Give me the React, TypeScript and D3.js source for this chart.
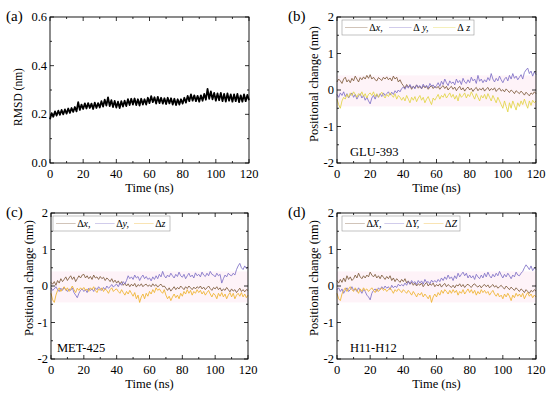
import React from 'react';
import * as d3 from 'd3';

// RMSD, one value per ns (0..120)
const rmsd = [
  0.18, 0.205, 0.19, 0.212, 0.195, 0.215, 0.198, 0.218, 0.2, 0.22,
  0.203, 0.224, 0.206, 0.226, 0.21, 0.23, 0.212, 0.25, 0.218, 0.24,
  0.222, 0.245, 0.224, 0.246, 0.226, 0.244, 0.222, 0.248, 0.226, 0.246,
  0.228, 0.254, 0.232, 0.26, 0.236, 0.27, 0.234, 0.258, 0.23, 0.255,
  0.228, 0.252, 0.226, 0.254, 0.232, 0.256, 0.234, 0.262, 0.238, 0.264,
  0.24, 0.265, 0.238, 0.262, 0.236, 0.264, 0.24, 0.262, 0.24, 0.268,
  0.246, 0.275, 0.25, 0.27, 0.244, 0.272, 0.246, 0.268, 0.244, 0.266,
  0.242, 0.268, 0.245, 0.266, 0.24, 0.264, 0.238, 0.262, 0.24, 0.262,
  0.244, 0.268, 0.248, 0.276, 0.254, 0.282, 0.256, 0.278, 0.254, 0.276,
  0.252, 0.278, 0.256, 0.284, 0.26, 0.305, 0.264, 0.294, 0.262, 0.288,
  0.256, 0.286, 0.258, 0.288, 0.254, 0.284, 0.252, 0.286, 0.256, 0.282,
  0.252, 0.282, 0.254, 0.284, 0.25, 0.278, 0.252, 0.282, 0.254, 0.28,
  0.258,
];

// positional changes, one value per ns (0..120)
const gluX = [
  0.22, 0.3, 0.25, 0.18, 0.3, 0.35, 0.22, 0.28, 0.2, 0.32,
  0.25, 0.38, 0.3, 0.22, 0.34, 0.28, 0.36, 0.3, 0.4, 0.32,
  0.42, 0.3, 0.35, 0.28, 0.25, 0.34, 0.3, 0.26, 0.35, 0.3,
  0.36, 0.28, 0.33, 0.25, 0.38, 0.3, 0.35, 0.22, 0.28, 0.18,
  0.12, 0.05, 0.15, 0.08, 0.12, 0.02, 0.1, 0.06, 0.14, 0.05,
  0.1, 0.03, 0.12, 0.06, 0.1, 0.02, 0.08, 0.12, 0.04, 0.1,
  0.05, 0.1, 0.02, 0.08, 0.12, 0.04, 0.1, 0.0, 0.06, 0.1,
  0.02, 0.08, -0.02, 0.05, 0.1, 0.0, 0.06, -0.03, 0.04, 0.08,
  0.0, 0.05, -0.04, 0.03, 0.07, -0.02, 0.04, 0.0, 0.06, -0.03,
  0.03, 0.07, -0.02, 0.04, 0.0, 0.06, -0.04, 0.02, 0.05, -0.03,
  0.01, -0.05, 0.03, -0.02, -0.07, 0.0, -0.04, -0.1, -0.02, -0.06,
  -0.1, -0.03, -0.08, -0.14, -0.06, -0.11, -0.16, -0.08, -0.12, -0.05,
  -0.1,
];
const gluY = [
  -0.12, -0.2, -0.08, -0.15, -0.05, -0.18, -0.1, -0.22, -0.14, -0.08,
  -0.2, -0.12, -0.25, -0.16, -0.1, -0.22, -0.15, -0.28, -0.2, -0.3,
  -0.38, -0.22, -0.15, -0.25, -0.12, -0.2, -0.1, -0.18, -0.08, -0.15,
  -0.1, -0.05, -0.14, -0.06, -0.12, -0.02, -0.08, 0.0, -0.05, 0.04,
  0.08, 0.02, 0.12, 0.05, 0.15, 0.06, 0.1, 0.03, 0.14, 0.08,
  0.12, 0.04, 0.16, 0.08, 0.13, 0.05, 0.18, 0.1, 0.14, 0.06,
  0.12, 0.2, 0.1, 0.24, 0.15, 0.3, 0.2, 0.12, 0.25, 0.18,
  0.22, 0.14, 0.3, 0.2, 0.26, 0.15, 0.32, 0.22, 0.18, 0.28,
  0.2, 0.35, 0.25, 0.3, 0.18, 0.4, 0.24, 0.3, 0.2, 0.28,
  0.22, 0.34, 0.26, 0.45, 0.3, 0.22, 0.32, 0.25, 0.38, 0.28,
  0.2, 0.3, 0.35, 0.25, 0.4, 0.3, 0.45, 0.32, 0.38, 0.28,
  0.35, 0.42, 0.3, 0.48, 0.55, 0.6, 0.45, 0.52, 0.38, 0.5,
  0.42,
];
const gluZ = [
  -0.25, -0.4, -0.5, -0.3, -0.2, -0.25, -0.12, -0.2, -0.08, -0.15,
  -0.05, -0.12, -0.2, -0.1, -0.15, -0.05, -0.18, -0.1, -0.22, -0.12,
  -0.08, -0.15, -0.05, -0.18, -0.1, -0.2, -0.12, -0.06, -0.15, -0.22,
  -0.12, -0.18, -0.08, -0.14, -0.2, -0.1, -0.25, -0.15, -0.2, -0.28,
  -0.2, -0.3, -0.15, -0.25, -0.35, -0.2, -0.28, -0.18, -0.32, -0.22,
  -0.15, -0.28, -0.2, -0.35, -0.25, -0.18, -0.3, -0.4, -0.22, -0.28,
  -0.2, -0.12, -0.25, -0.15, -0.2, -0.1, -0.22, -0.15, -0.08, -0.2,
  -0.12, -0.25, -0.15, -0.3, -0.1, -0.2, -0.15, -0.08, -0.22, -0.12,
  -0.18, -0.05, -0.15, -0.25, -0.1, -0.2, -0.3, -0.15, -0.22, -0.12,
  -0.25, -0.1, -0.2, -0.3, -0.15, -0.25, -0.35, -0.2, -0.3, -0.4,
  -0.5, -0.3, -0.45, -0.6, -0.35, -0.5, -0.3, -0.42, -0.55, -0.35,
  -0.45, -0.3, -0.4, -0.25, -0.38, -0.5, -0.3, -0.42, -0.28, -0.35,
  -0.3,
];

const metX = [
  0.1, 0.05, 0.12, 0.02, 0.15, 0.08, 0.2, 0.12, 0.18, 0.25,
  0.15, 0.22, 0.28, 0.18, 0.25, 0.12, 0.2, 0.28, 0.22, 0.3,
  0.32, 0.22, 0.28, 0.2, 0.26, 0.18, 0.3, 0.22, 0.25, 0.18,
  0.26, 0.2, 0.24, 0.15, 0.22, 0.18, 0.12, 0.2, 0.1, 0.16,
  0.08, 0.14, 0.05, 0.12, 0.02, 0.08, 0.0, 0.06, -0.02, 0.05,
  0.0, 0.07, -0.03, 0.04, 0.0, 0.06, -0.02, 0.03, 0.05, -0.01,
  0.03, -0.02, 0.06, 0.0, 0.04, -0.03, 0.02, 0.05, -0.02, 0.0,
  -0.06, -0.12, -0.05, -0.14, -0.08, -0.02, -0.1, -0.04, -0.08, 0.0,
  -0.05, -0.1, -0.02, -0.07, 0.0, -0.05, -0.1, -0.03, -0.08, -0.02,
  -0.06, 0.0, -0.08, -0.03, -0.1, -0.05, 0.0, -0.07, -0.12, -0.04,
  -0.08, -0.02, -0.1, -0.05, -0.14, -0.08, -0.12, -0.04, -0.1, -0.16,
  -0.08, -0.14, -0.1, -0.18, -0.12, -0.06, -0.15, -0.1, -0.16, -0.1,
  -0.12,
];
const metY = [
  -0.05, -0.12, -0.08, -0.02, -0.1, -0.15, -0.06, -0.12, -0.04, -0.1,
  -0.15, -0.08, -0.12, -0.05, -0.18, -0.25, -0.32, -0.2, -0.12, -0.08,
  -0.15, -0.1, -0.18, -0.06, -0.12, -0.08, -0.15, -0.05, -0.1, -0.02,
  -0.08, -0.12, -0.04, -0.1, 0.0, -0.06, -0.02, 0.04, -0.03, 0.02,
  0.05, -0.02, 0.08, 0.02, 0.12, 0.06, 0.15, 0.28, 0.2, 0.25,
  0.18, 0.3, 0.22, 0.26, 0.15, 0.24, 0.3, 0.2, 0.26, 0.18,
  0.22, 0.14, 0.25, 0.18, 0.28, 0.2, 0.32, 0.25, 0.4, 0.28,
  0.22, 0.3, 0.25, 0.35, 0.28, 0.22, 0.32, 0.26, 0.38, 0.28,
  0.24, 0.32, 0.2, 0.28, 0.35, 0.25, 0.3, 0.22, 0.36, 0.28,
  0.32, 0.25, 0.38, 0.3, 0.26, 0.35, 0.28, 0.4, 0.32, 0.3,
  0.25, 0.35, 0.28, 0.32, 0.08, 0.2, 0.3, 0.25, 0.35, 0.3,
  0.28, 0.35, 0.3, 0.45, 0.55, 0.62, 0.5, 0.45, 0.55, 0.48,
  0.52,
];
const metZ = [
  -0.2, -0.38, -0.45, -0.25, -0.12, -0.05, -0.15, -0.08, -0.02, -0.12,
  -0.05, -0.15, -0.08, 0.0, -0.1, -0.18, -0.06, -0.12, -0.05, -0.1,
  -0.04, -0.12, -0.08, -0.15, -0.05, -0.1, -0.02, -0.12, -0.18, -0.08,
  -0.12, -0.05, -0.15, -0.08, -0.12, -0.2, -0.1, -0.05, -0.15, -0.1,
  -0.08, -0.15, -0.2, -0.1, -0.18, -0.25, -0.15, -0.22, -0.12, -0.2,
  -0.28, -0.18, -0.35, -0.25, -0.45, -0.3, -0.22, -0.35, -0.2, -0.28,
  -0.15, -0.22, -0.1, -0.18, -0.05, -0.12, -0.08, -0.15, -0.2, -0.1,
  -0.25, -0.35, -0.28, -0.4, -0.3, -0.22, -0.32, -0.25, -0.35, -0.2,
  -0.28, -0.15, -0.22, -0.1, -0.2, -0.12, -0.25, -0.15, -0.2, -0.1,
  -0.18, -0.12, -0.22, -0.15, -0.25, -0.18, -0.12, -0.22, -0.3, -0.2,
  -0.25, -0.35, -0.2, -0.28, -0.18, -0.3, -0.22, -0.35, -0.25, -0.18,
  -0.3, -0.2, -0.35, -0.25, -0.2, -0.28, -0.18, -0.3, -0.22, -0.32,
  -0.25,
];

const helX = [
  0.15, 0.08, 0.18, 0.1, 0.22, 0.12, 0.28, 0.18, 0.25, 0.15,
  0.2, 0.3, 0.22, 0.35, 0.25, 0.2, 0.28, 0.22, 0.3, 0.25,
  0.38, 0.3, 0.25, 0.32, 0.22, 0.28, 0.2, 0.3, 0.24, 0.18,
  0.26, 0.2, 0.28, 0.15, 0.22, 0.12, 0.2, 0.15, 0.1, 0.18,
  0.12, 0.2, 0.08, 0.14, 0.05, 0.1, 0.02, 0.08, 0.0, 0.06,
  0.02, 0.08, -0.02, 0.05, 0.1, 0.0, 0.06, 0.02, 0.08, -0.02,
  0.04, 0.0, 0.06, -0.03, 0.03, 0.07, -0.02, 0.04, 0.0, -0.04,
  0.02, -0.05, 0.03, 0.0, 0.06, -0.02, 0.04, -0.04, 0.02, 0.05,
  0.0, -0.04, 0.03, 0.06, 0.0, -0.03, 0.02, -0.05, 0.01, 0.04,
  -0.02, 0.03, -0.05, 0.0, 0.04, -0.03, 0.01, -0.06, -0.02, 0.02,
  -0.04, -0.08, 0.0, -0.05, -0.1, -0.03, -0.08, -0.12, -0.05, -0.1,
  -0.15, -0.08, -0.12, -0.18, -0.1, -0.15, -0.2, -0.12, -0.16, -0.1,
  -0.14,
];
const helY = [
  -0.1, -0.05, -0.15, -0.08, -0.2, -0.12, -0.05, -0.15, -0.1, -0.02,
  -0.12, -0.08, -0.15, -0.05, -0.12, -0.2, -0.1, -0.15, -0.25, -0.3,
  -0.38, -0.2, -0.12, -0.08, -0.15, -0.05, -0.1, -0.02, -0.08, 0.0,
  -0.06, -0.02, -0.1, 0.02, -0.05, 0.0, -0.04, 0.05, 0.0, 0.04,
  0.0, 0.08, 0.02, 0.12, 0.05, 0.15, 0.08, 0.12, 0.04, 0.15,
  0.08, 0.14, 0.05, 0.18, 0.1, 0.12, 0.06, 0.16, 0.1, 0.15,
  0.1, 0.18, 0.12, 0.22, 0.15, 0.25, 0.18, 0.3, 0.2, 0.25,
  0.15, 0.28, 0.2, 0.35, 0.25, 0.32, 0.38, 0.28, 0.35, 0.22,
  0.3, 0.22, 0.28, 0.18, 0.32, 0.25, 0.2, 0.3, 0.22, 0.35,
  0.25, 0.38, 0.28, 0.22, 0.32, 0.25, 0.35, 0.28, 0.4, 0.3,
  0.22, 0.32, 0.25, 0.35, 0.28, 0.2, 0.3, 0.25, 0.38, 0.3,
  0.28, 0.35, 0.4, 0.5, 0.58, 0.52, 0.45, 0.55, 0.42, 0.5,
  0.45,
];
const helZ = [
  -0.2, -0.35, -0.4, -0.22, -0.12, -0.05, -0.15, -0.08, -0.02, -0.1,
  -0.15, -0.05, -0.12, -0.2, -0.08, -0.15, -0.05, -0.12, -0.08, -0.15,
  -0.1, -0.05, -0.12, -0.18, -0.08, -0.15, -0.1, -0.05, -0.12, -0.08,
  -0.15, -0.1, -0.05, -0.12, -0.2, -0.1, -0.15, -0.08, -0.12, -0.18,
  -0.1, -0.15, -0.2, -0.12, -0.18, -0.25, -0.15, -0.22, -0.3, -0.2,
  -0.25, -0.18, -0.3, -0.22, -0.28, -0.35, -0.25, -0.45, -0.3, -0.22,
  -0.3, -0.18, -0.25, -0.12, -0.2, -0.1, -0.15, -0.22, -0.12, -0.2,
  -0.1, -0.18, -0.12, -0.25, -0.15, -0.2, -0.1, -0.22, -0.15, -0.08,
  -0.18, -0.1, -0.2, -0.12, -0.25, -0.15, -0.22, -0.1, -0.18, -0.12,
  -0.2, -0.15, -0.25, -0.18, -0.12, -0.22, -0.28, -0.2, -0.3, -0.25,
  -0.35, -0.22, -0.3, -0.2, -0.28, -0.4, -0.25, -0.32, -0.2, -0.28,
  -0.22, -0.3, -0.2, -0.35, -0.25, -0.18, -0.28, -0.22, -0.32, -0.25,
  -0.3,
];

const xTicks = [0, 20, 40, 60, 80, 100, 120];
const rmsdTicks = [0.0, 0.2, 0.4, 0.6];
const posTicks = [-2, -1, 0, 1, 2];

const FONT = "'Liberation Serif', 'Times New Roman', 'DejaVu Serif', serif";
const BROWN = '#7d5b3b';
const PURPLE = '#7e70c6';
const YELLOW = '#e2d444';
const ORANGE = '#efb22c';

interface Series {
  values: number[];
  color: string;
}

interface PanelProps {
  left: number;
  right: number;
  top: number;
  bottom: number;
  tag: string;
  tagX: number;
  tagY: number;
  yTitle: string;
  yTitleX: number;
  yTitleY: number;
  yTitleSize: number;
  yDomain: [number, number];
  yTicks: number[];
  yFormat: (v: number) => string;
  series: Series[];
  legend?: { labels: string[]; x0: number; x1: number };
  note?: { text: string; x: number };
  band?: boolean;
}

const Panel: React.FC<PanelProps> = p => {
  const x = d3.scaleLinear().domain([0, 120]).range([p.left, p.right]);
  const y = d3.scaleLinear().domain(p.yDomain).range([p.bottom, p.top]);
  const yStep = p.yTicks[1] - p.yTicks[0];
  const minorX = d3.range(0, 121, 10);
  const minorY = d3.range(p.yDomain[0], p.yDomain[1] + 1e-9, yStep / 2);

  const tick = (k: string, x1: number, y1: number, x2: number, y2: number) => (
    <line key={k} x1={x1} y1={y1} x2={x2} y2={y2} stroke="#000" strokeWidth={0.8} />
  );

  const line = (vals: number[]) =>
    d3
      .line<number>()
      .x((_, i) => x((i * 120) / (vals.length - 1)))
      .y(d => y(d))(vals) || '';

  return (
    <g>
      {p.band && (
        <rect x={p.left} y={y(0.4)} width={p.right - p.left} height={y(-0.45) - y(0.4)} fill="#fef3f8" />
      )}
      {p.series.map((s, i) => (
        <path
          key={i}
          d={line(s.values)}
          fill="none"
          stroke={s.color}
          strokeWidth={p.band ? 0.85 : 1.8}
          strokeLinejoin="round"
        />
      ))}
      <rect x={p.left} y={p.top} width={p.right - p.left} height={p.bottom - p.top} fill="none" stroke="#000" strokeWidth={0.9} />
      {minorX.map(v => {
        const len = v % 20 === 0 ? 4 : 2;
        return (
          <g key={'x' + v}>
            {tick('b', x(v), p.bottom, x(v), p.bottom - len)}
            {tick('t', x(v), p.top, x(v), p.top + len)}
          </g>
        );
      })}
      {minorY.map((v, i) => {
        const len = i % 2 === 0 ? 4 : 2;
        return (
          <g key={'y' + i}>
            {tick('l', p.left, y(v), p.left + len, y(v))}
            {tick('r', p.right, y(v), p.right - len, y(v))}
          </g>
        );
      })}
      {xTicks.map(v => (
        <text key={'xl' + v} x={x(v)} y={p.bottom + 15} textAnchor="middle" fontSize={12.5} fontFamily={FONT}>
          {v}
        </text>
      ))}
      {p.yTicks.map(v => (
        <text key={'yl' + v} x={p.left - 3} y={y(v) + 4} textAnchor="end" fontSize={12.5} fontFamily={FONT}>
          {p.yFormat(v)}
        </text>
      ))}
      <text x={(p.left + p.right) / 2} y={p.bottom + 29} textAnchor="middle" fontSize={12.5} fontFamily={FONT}>
        Time (ns)
      </text>
      <text
        transform={`translate(${p.yTitleX},${p.yTitleY}) rotate(-90)`}
        textAnchor="middle"
        fontSize={p.yTitleSize}
        fontFamily={FONT}
      >
        {p.yTitle}
      </text>
      <text x={p.tagX} y={p.tagY} fontSize={15} fontFamily={FONT}>
        {p.tag}
      </text>
      {p.note && (
        <text x={p.note.x} y={p.bottom - 7} fontSize={12.5} fontFamily={FONT}>
          {p.note.text}
        </text>
      )}
      {p.legend && (
        <g>
          <rect
            x={p.legend.x0}
            y={p.top + 3}
            width={p.legend.x1 - p.legend.x0}
            height={15}
            fill="#fff"
            stroke="#999"
            strokeWidth={0.6}
          />
          {p.legend.labels.map((lab, i) => {
            const w = (p.legend!.x1 - p.legend!.x0) / 3;
            const lx = p.legend!.x0 + i * w;
            const ly = p.top + 10.5;
            return (
              <g key={lab}>
                <line x1={lx + 3} x2={lx + w * 0.58} y1={ly} y2={ly} stroke={p.series[i].color} strokeOpacity={0.45} strokeWidth={0.8} />
                <text x={lx + w * 0.62} y={ly + 3.5} fontSize={10} fontFamily={FONT}>
                  {'Δ'}
                  <tspan fontStyle="italic">{lab}</tspan>
                </text>
              </g>
            );
          })}
        </g>
      )}
    </g>
  );
};

const posFmt = (v: number) => String(v);

const App: React.FC = () => (
  <svg width={550} height={395} style={{ position: 'absolute', left: 0, top: 0, background: '#fff' }}>
    <Panel
      left={50} right={249} top={17} bottom={163}
      tag="(a)" tagX={6} tagY={21}
      yTitle="RMSD (nm)" yTitleX={22} yTitleY={97} yTitleSize={11.5}
      yDomain={[0, 0.6]} yTicks={rmsdTicks} yFormat={v => v.toFixed(1)}
      series={[{ values: rmsd, color: '#000' }]}
    />
    <Panel
      left={337} right={536} top={17} bottom={163}
      tag="(b)" tagX={288} tagY={21}
      yTitle="Positional change (nm)" yTitleX={318} yTitleY={84} yTitleSize={12.5}
      yDomain={[-2, 2]} yTicks={posTicks} yFormat={posFmt}
      series={[{ values: gluX, color: BROWN }, { values: gluY, color: PURPLE }, { values: gluZ, color: YELLOW }]}
      band
      legend={{ labels: ['x,', ' y,', ' z'], x0: 342, x1: 474 }}
      note={{ text: 'GLU-393', x: 350 }}
    />
    <Panel
      left={51} right={248} top={213} bottom={359}
      tag="(c)" tagX={6} tagY={217}
      yTitle="Positional change (nm)" yTitleX={33} yTitleY={278} yTitleSize={12.5}
      yDomain={[-2, 2]} yTicks={posTicks} yFormat={posFmt}
      series={[{ values: metX, color: BROWN }, { values: metY, color: PURPLE }, { values: metZ, color: ORANGE }]}
      band
      legend={{ labels: ['x,', 'y,', 'z'], x0: 53, x1: 170 }}
      note={{ text: 'MET-425', x: 57 }}
    />
    <Panel
      left={337} right={536} top={213} bottom={359}
      tag="(d)" tagX={288} tagY={217}
      yTitle="Positional change (nm)" yTitleX={318} yTitleY={278} yTitleSize={12.5}
      yDomain={[-2, 2]} yTicks={posTicks} yFormat={posFmt}
      series={[{ values: helX, color: BROWN }, { values: helY, color: PURPLE }, { values: helZ, color: ORANGE }]}
      band
      legend={{ labels: ['X,', 'Y,', 'Z'], x0: 342, x1: 460 }}
      note={{ text: 'H11-H12', x: 350 }}
    />
  </svg>
);

export default App;
